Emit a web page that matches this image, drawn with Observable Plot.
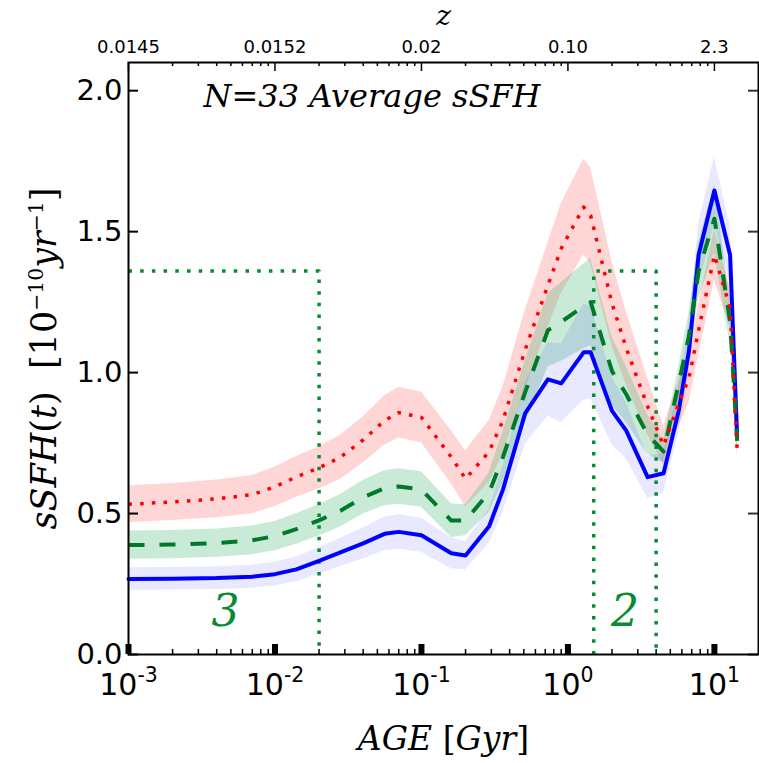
<!DOCTYPE html>
<html>
<head>
<meta charset="utf-8">
<script src="https://cdn.jsdelivr.net/npm/d3@7"></script>
<script src="https://cdn.jsdelivr.net/npm/@observablehq/plot@0.6"></script>
<style>
  html, body { margin: 0; padding: 0; background: white; }
  #chart { width: 759px; height: 763px; }
</style>
</head>
<body>
<div id="chart"></div>
<script>
// ---- data ----
const ages = [0.001, 0.002, 0.004, 0.007, 0.01, 0.014, 0.02, 0.028, 0.04, 0.056, 0.07, 0.1, 0.16, 0.2, 0.29, 0.36, 0.51, 0.73, 0.9, 1.28, 1.43, 2.0, 2.5, 3.5, 4.5, 5.7, 6.7, 7.8, 10, 12.8, 14.3];
const blueVals  = [0.268, 0.269, 0.271, 0.276, 0.285, 0.302, 0.332, 0.362, 0.394, 0.428, 0.435, 0.423, 0.359, 0.351, 0.455, 0.585, 0.855, 0.976, 0.962, 1.072, 1.072, 0.864, 0.794, 0.629, 0.643, 0.864, 1.076, 1.417, 1.646, 1.417, 0.77];
const greenVals = [0.388, 0.390, 0.395, 0.405, 0.42, 0.445, 0.476, 0.51, 0.558, 0.59, 0.596, 0.585, 0.475, 0.476, 0.575, 0.70, 0.93, 1.15, 1.18, 1.235, 1.25, 1.005, 0.923, 0.78, 0.72, 0.96, 1.13, 1.36, 1.546, 1.18, 0.758];
const redVals   = [0.533, 0.541, 0.552, 0.567, 0.595, 0.63, 0.662, 0.70, 0.761, 0.83, 0.858, 0.841, 0.70, 0.623, 0.72, 0.83, 1.08, 1.31, 1.44, 1.587, 1.557, 1.245, 1.087, 0.88, 0.741, 0.89, 0.98, 1.15, 1.417, 1.23, 0.723];
const blueErr   = [0.04, 0.04, 0.04, 0.041, 0.042, 0.044, 0.047, 0.05, 0.055, 0.06, 0.062, 0.06, 0.055, 0.05, 0.06, 0.08, 0.11, 0.13, 0.14, 0.17, 0.165, 0.12, 0.1, 0.075, 0.07, 0.08, 0.09, 0.11, 0.12, 0.1, 0.05];
const greenErr  = [0.05, 0.05, 0.05, 0.051, 0.052, 0.054, 0.056, 0.058, 0.06, 0.062, 0.063, 0.063, 0.06, 0.055, 0.07, 0.09, 0.11, 0.13, 0.14, 0.15, 0.155, 0.12, 0.1, 0.07, 0.04, 0.06, 0.08, 0.1, 0.12, 0.08, 0.04];
const redErr    = [0.066, 0.066, 0.067, 0.068, 0.07, 0.072, 0.075, 0.078, 0.082, 0.088, 0.09, 0.09, 0.095, 0.1, 0.11, 0.12, 0.14, 0.15, 0.16, 0.17, 0.17, 0.15, 0.13, 0.1, 0.07, 0.08, 0.09, 0.09, 0.09, 0.07, 0.04];

const xTicks = [0.001, 0.01, 0.1, 1, 10];
const xTickLabels = ["10^{-3}", "10^{-2}", "10^{-1}", "10^{0}", "10^{1}"];
const zTickLabels = ["0.0145", "0.0152", "0.02", "0.10", "2.3"];
const yTicks = [0, 0.5, 1.0, 1.5, 2.0];
const minorMult = [2, 3, 4, 5, 6, 7, 8, 9];

const regionEdges = [[0.001, 0.02], [1.5, 4]];
const regionTop = 1.36;
const regionLabels = ["3", "2"];
const regionLabelAges = [0.0046, 2.45];
const regionLabelY = 0.15;

// «...» marks upright (roman) pieces, ^{...} marks superscripts
const titleText = "N«=»33 Average sSFH";
const xTitle = "AGE «[»Gyr«]»";
const yTitle = "sSFH«(»t«)»  «[10»^{\u221210}yr^{\u22121}«]»";
const topTitle = "z";

// ---- derived tables ----
const mk = (vals, err, s) => ages.map((a, i) => ({age: a, v: vals[i], lo: vals[i] - err[i], hi: vals[i] + err[i], s}));
const red = mk(redVals, redErr, "red");
const green = mk(greenVals, greenErr, "green");
const blue = mk(blueVals, blueErr, "blue");

const XMIN = 1e-3, XMAX = 20, YMAX = 2.1;
const minorTicks = [];
xTicks.forEach(t => minorMult.forEach(m => { const v = t * m; if (v < XMAX) minorTicks.push(v); }));

const boxPts = [];
regionEdges.forEach(([a, b], k) => {
  if (a > XMIN) boxPts.push({x: a, y: 0, k});
  boxPts.push({x: a, y: regionTop, k}, {x: b, y: regionTop, k}, {x: b, y: 0, k});
});

const xLab = new Map(xTicks.map((t, i) => [t, xTickLabels[i]]));
const zLab = new Map(xTicks.map((t, i) => [t, zTickLabels[i]]));

const W = 759, H = 763, mL = 128, mR = 1, mT = 62, mB = 109;
const plotH = H - mT - mB, plotW = W - mL - mR;
const pxY = YMAX / plotH;
const pxX = Math.log10(XMAX / XMIN) / plotW;

const GREEN = "#0a8a34";
const serif = "'DejaVu Serif', serif";

const chart = Plot.plot({
  width: W, height: H,
  marginLeft: mL, marginRight: mR, marginTop: mT, marginBottom: mB,
  x: {type: "log", domain: [XMIN, XMAX]},
  y: {domain: [0, YMAX]},
  style: {fontFamily: "'DejaVu Sans', sans-serif", fontSize: "29px", color: "black", background: "white", overflow: "visible"},
  marks: [
    Plot.areaY(red,   {x: "age", y1: "lo", y2: "hi", fill: "#ff0000", fillOpacity: 0.16}),
    Plot.areaY(green, {x: "age", y1: "lo", y2: "hi", fill: "#3cb371", fillOpacity: 0.28}),
    Plot.areaY(blue,  {x: "age", y1: "lo", y2: "hi", fill: "#0000ff", fillOpacity: 0.09}),
    Plot.line(boxPts, {x: "x", y: "y", z: "k", stroke: GREEN, strokeWidth: 3.5, strokeDasharray: "3.5,8.2", strokeLinecap: "butt"}),
    Plot.line(blue,  {x: "age", y: "v", stroke: "#0000ff", strokeWidth: 4}),
    Plot.line(green, {x: "age", y: "v", stroke: "#007a2a", strokeWidth: 4, strokeDasharray: "16,15", strokeLinecap: "butt"}),
    Plot.line(red,   {x: "age", y: "v", stroke: "#ff0000", strokeWidth: 3.5, strokeDasharray: "3.5,8.2", strokeLinecap: "butt"}),
    Plot.text(regionLabels, {x: (d, i) => regionLabelAges[i], y: regionLabelY, text: d => d, fill: GREEN, fontSize: 44, fontStyle: "italic", fontFamily: serif}),
    Plot.text([titleText], {frameAnchor: "top-left", dx: 75, dy: 22, text: d => d, fontSize: 32, fontStyle: "italic", fontFamily: serif, textAnchor: "start", lineAnchor: "top"}),
    // ticks (inward)
    Plot.ruleX(minorTicks, {x: d => d, y1: 0, y2: 5 * pxY, stroke: "black", strokeWidth: 1.5}),
    Plot.ruleX(xTicks, {x: d => d, y1: 0, y2: 10 * pxY, stroke: "black", strokeWidth: 6}),
    Plot.ruleX(minorTicks, {x: d => d, y1: YMAX, y2: YMAX - 4 * pxY, stroke: "black", strokeWidth: 1.5}),
    Plot.ruleX(xTicks, {x: d => d, y1: YMAX, y2: YMAX - 9 * pxY, stroke: "black", strokeWidth: 1.5}),
    Plot.ruleY(yTicks, {y: d => d, x1: XMIN, x2: XMIN * Math.pow(10, 10 * pxX), stroke: "black", strokeWidth: 2}),
    Plot.ruleY(yTicks, {y: d => d, x1: XMAX, x2: XMAX / Math.pow(10, 10 * pxX), stroke: "#333", strokeWidth: 2}),
    Plot.frame({stroke: "black", strokeWidth: 2}),
    // axes labels
    Plot.axisX({ticks: xTicks, tickFormat: d => xLab.get(d), tickSize: 0, tickPadding: 19, fontSize: 30, label: null}),
    Plot.axisX({anchor: "top", ticks: xTicks, tickFormat: d => zLab.get(d), tickSize: 0, tickPadding: 10, fontSize: 18, label: null}),
    Plot.axisY({ticks: yTicks, tickFormat: d => d.toFixed(1), tickSize: 0, tickPadding: 6, fontSize: 29, label: null}),
    Plot.text([topTitle], {frameAnchor: "top", dy: -46, text: d => d, fontSize: 28, fontStyle: "italic", fontFamily: serif, textAnchor: "middle", lineAnchor: "middle"}),
    Plot.text([xTitle], {frameAnchor: "bottom", dy: 85, text: d => d, fontSize: 33, fontStyle: "italic", fontFamily: serif, textAnchor: "middle", lineAnchor: "middle"}),
    Plot.text([yTitle], {frameAnchor: "left", dx: -84, rotate: -90, text: d => d, fontSize: 35, fontStyle: "italic", fontFamily: serif, textAnchor: "middle", lineAnchor: "middle"})
  ]
});

// turn markup into tspans: ^{..} superscript (upright), «..» upright
const ns = "http://www.w3.org/2000/svg";
chart.querySelectorAll("text").forEach(t => {
  const s = t.textContent;
  if (!s || (s.indexOf("^{") < 0 && s.indexOf("«") < 0)) return;
  const fs = parseFloat(getComputedStyle(t).fontSize) || 30;
  const parts = s.split(/(\^\{[^}]*\}|«[^»]*»)/);
  while (t.firstChild) t.removeChild(t.firstChild);
  let raised = false;
  parts.forEach(p => {
    if (!p) return;
    const sp = document.createElementNS(ns, "tspan");
    if (p.startsWith("^{")) {
      sp.textContent = p.slice(2, -1);
      sp.setAttribute("font-size", (fs * 0.68).toFixed(1));
      sp.setAttribute("font-style", "normal");
      if (!raised) { sp.setAttribute("dy", (-fs * 0.42).toFixed(1)); raised = true; }
    } else {
      const upright = p.startsWith("«");
      sp.textContent = upright ? p.slice(1, -1) : p;
      if (upright) sp.setAttribute("font-style", "normal");
      if (raised) { sp.setAttribute("dy", (fs * 0.42).toFixed(1)); raised = false; }
    }
    t.appendChild(sp);
  });
});
document.getElementById("chart").appendChild(chart);
</script>
</body>
</html>
